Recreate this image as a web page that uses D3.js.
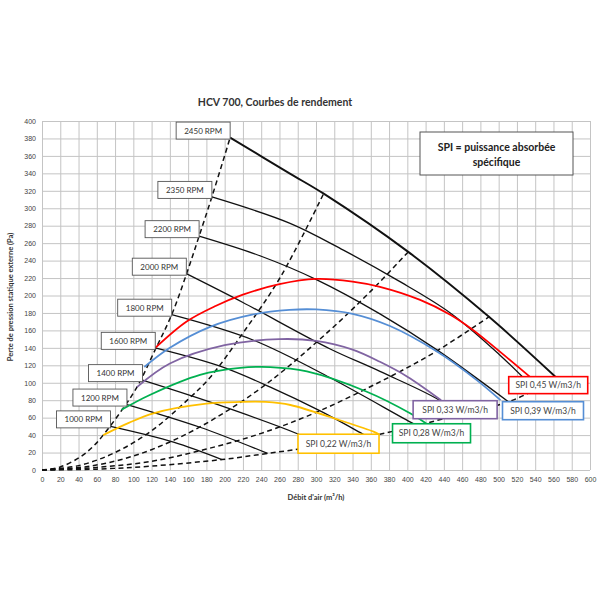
<!DOCTYPE html>
<html>
<head>
<meta charset="utf-8">
<script src="https://cdn.jsdelivr.net/npm/d3@7"></script>
<style>
body { margin: 0; background: #fff; }
svg { font-family: Lato, "Open Sans", sans-serif; }
</style>
</head>
<body>
<div id="chart"></div>
<script>
// HCV 700 - fan curves (RPM), SPI iso-lines and system curves

// Axis ticks
var xTicks = d3.range(0, 601, 20);
var yTicks = d3.range(0, 401, 20);

// Fan curves, one per speed: [airflow m3/h, pressure Pa]
var rpmNames = ["1000 RPM", "1200 RPM", "1400 RPM", "1600 RPM", "1800 RPM",
                "2000 RPM", "2200 RPM", "2350 RPM", "2450 RPM"];
var rpm1000 = [[75,50],[144,32],[197,12]];
var rpm1200 = [[93,75],[173,49],[247,19]];
var rpm1400 = [[110,103],[195,74],[281,41],[308,28]];
var rpm1600 = [[124,140],[195,119],[250,95],[304,68],[350,42],[357,38]];
var rpm1800 = [[142,178],[231,149],[315,106],[405,54],[411,51]];
var rpm2000 = [[158,225],[220,192],[315,139],[370,113],[438,78],[452,64]];
var rpm2200 = [[172,268],[240,245],[301,218],[370,179],[432,138],[511,78]];
var rpm2350 = [[186,313],[271,283],[330,252],[390,217],[447,180],[500,133],[540,92]];
var rpm2450 = [[206,381],[271,340],[308,317],[401,250],[490,175],[563,106]];
var rpmCurves = [rpm1000, rpm1200, rpm1400, rpm1600, rpm1800, rpm2000, rpm2200, rpm2350, rpm2450];

// SPI iso-lines
var spiNames = ["SPI 0,22 W/m3/h", "SPI 0,28 W/m3/h", "SPI 0,33 W/m3/h", "SPI 0,39 W/m3/h", "SPI 0,45 W/m3/h"];
var spi022 = [[67,40],[95,54],[122,65],[180,76],[217,78],[245,78],[272,74.5],[326,57],[363,44],[369,41]];
var spi028 = [[87,69],[118,86],[173,109],[217,117],[250,118],[290,113],[355,90],[403,65],[421,53]];
var spi033 = [[104,95],[140,122],[200,143],[260,150],[300,148],[340,138],[370,124],[400,107],[437,80]];
var spi039 = [[112,118],[140,140],[184,164],[230,178],[271,183.5],[300,184],[340,179],[381,165],[432,136],[476,103],[502,80]];
var spi045 = [[124,140],[158,170],[190,188],[220,201],[260,213],[300,219],[340,216],[370,210],[414,195],[447,178],[470,162],[494,142],[534,107]];
var spiCurves = [spi022, spi028, spi033, spi039, spi045];

// System curves (dashed)
var sys1 = [[0,0],[20,3.5],[42,15],[56,27],[67,40],[87,68],[104,95],[124,138],[142,178],[158,224],[172,268],[186,313],[206,381]];
var sys2 = [[0,0],[40,5],[80,20],[120,45],[160,81],[184,106],[220,157],[261,221],[308,316]];
var sys3 = [[0,0],[50,4],[100,16],[150,37],[200,66],[250,102],[315,160],[360,205],[401,250]];
var sys4 = [[0,0],[60,3],[120,10],[180,24],[240,42],[300,66],[370,101],[430,135],[490,176]];
var sys5 = [[0,0],[60,1],[120,4.5],[197,12],[247,19],[300,27],[370,41],[452,62],[510,78],[540,92],[563,106]];
var sysCurves = [sys1, sys2, sys3, sys4, sys5];

// ---- layout / style ----
var width = 600, height = 600;
var spiColors = ["#ffc000", "#00b050", "#8064a2", "#558ed5", "#ff0000"];
// label boxes relative to the end of each SPI line (pixels)
var spiBoxLayout = [
	{dx: -81, dy: 0, w: 81, h: 19},
	{dx: -34, dy: 0, w: 78, h: 19},
	{dx: -28, dy: 0.5, w: 84, h: 18},
	{dx: 2, dy: 1.5, w: 81, h: 18},
	{dx: -21, dy: 0, w: 79, h: 17}
];

var x = d3.scaleLinear().domain([0, 600]).range([42, 590]);
var y = d3.scaleLinear().domain([0, 400]).range([470, 121]);

var svg = d3.select("#chart").append("svg")
	.attr("width", width)
	.attr("height", height);

// Grid + axes
var xAxis = d3.axisBottom(x).tickValues(xTicks).tickSize(-(y(0) - y(400))).tickPadding(7);
var yAxis = d3.axisLeft(y).tickValues(yTicks).tickSize(-(x(600) - x(0))).tickPadding(6);

var gx = svg.append("g").attr("transform", "translate(0," + y(0) + ")").call(xAxis);
var gy = svg.append("g").attr("transform", "translate(" + x(0) + ",0)").call(yAxis);
[gx, gy].forEach(function(g) {
	g.select(".domain").remove();
	g.selectAll(".tick line").attr("stroke", "#c4c4c4").attr("stroke-width", 1);
	g.selectAll(".tick text").attr("fill", "#444").style("font-size", "7px");
});

var line = d3.line()
	.x(function(d) { return x(d[0]); })
	.y(function(d) { return y(d[1]); })
	.curve(d3.curveCatmullRom.alpha(0.5));

// System curves
svg.selectAll("path.sys")
	.data(sysCurves)
	.enter()
		.append("path")
		.attr("class", "sys")
		.attr("d", line)
		.attr("fill", "none")
		.attr("stroke", "#111")
		.attr("stroke-width", 1.5)
		.attr("stroke-dasharray", "5,3.5");

// Fan curves
svg.selectAll("path.rpm")
	.data(rpmCurves)
	.enter()
		.append("path")
		.attr("class", "rpm")
		.attr("d", line)
		.attr("fill", "none")
		.attr("stroke", "#111")
		.attr("stroke-width", function(d, i) { return i === rpmCurves.length - 1 ? 1.9 : 1.3; });

// SPI lines
svg.selectAll("path.spi")
	.data(spiCurves)
	.enter()
		.append("path")
		.attr("class", "spi")
		.attr("d", line)
		.attr("fill", "none")
		.attr("stroke", function(d, i) { return spiColors[i]; })
		.attr("stroke-width", 1.8);

// RPM labels: box whose lower right corner sits at the start of the curve
var rpmLab = svg.selectAll("g.rpmlab")
	.data(rpmCurves)
	.enter()
		.append("g")
		.attr("class", "rpmlab")
		.attr("transform", function(d) {
			return "translate(" + (x(d[0][0]) - 54) + "," + (y(d[0][1]) - 15.5) + ")";
		});
rpmLab.append("rect")
	.attr("width", 54).attr("height", 17)
	.attr("fill", "#fff").attr("stroke", "#555").attr("stroke-width", 0.9);
rpmLab.append("text")
	.attr("x", 27).attr("y", 11.5)
	.attr("text-anchor", "middle")
	.attr("fill", "#333")
	.style("font-size", "8px")
	.text(function(d, i) { return rpmNames[i]; });

// SPI labels
var spiLab = svg.selectAll("g.spilab")
	.data(spiCurves)
	.enter()
		.append("g")
		.attr("class", "spilab")
		.attr("transform", function(d, i) {
			var e = d[d.length - 1], l = spiBoxLayout[i];
			return "translate(" + (x(e[0]) + l.dx) + "," + (y(e[1]) + l.dy) + ")";
		});
spiLab.append("rect")
	.attr("width", function(d, i) { return spiBoxLayout[i].w; })
	.attr("height", function(d, i) { return spiBoxLayout[i].h; })
	.attr("fill", "#fff")
	.attr("stroke", function(d, i) { return spiColors[i]; })
	.attr("stroke-width", 1.6);
spiLab.append("text")
	.attr("x", function(d, i) { return spiBoxLayout[i].w / 2; })
	.attr("y", function(d, i) { return spiBoxLayout[i].h / 2 + 3; })
	.attr("text-anchor", "middle")
	.attr("fill", "#444")
	.style("font-size", "8.5px")
	.text(function(d, i) { return spiNames[i]; });

// Legend note
var note = svg.append("g").attr("transform", "translate(420,132)");
note.append("rect")
	.attr("width", 153).attr("height", 43)
	.attr("fill", "#fff").attr("stroke", "#555").attr("stroke-width", 1);
note.append("text")
	.attr("x", 76.5).attr("y", 18.5)
	.attr("text-anchor", "middle").attr("fill", "#222")
	.style("font-size", "10.5px").style("font-weight", "bold")
	.text("SPI = puissance absorbée");
note.append("text")
	.attr("x", 76.5).attr("y", 33.5)
	.attr("text-anchor", "middle").attr("fill", "#222")
	.style("font-size", "10.5px").style("font-weight", "bold")
	.text("spécifique");

// Titles
svg.append("text")
	.attr("x", 275).attr("y", 106)
	.attr("text-anchor", "middle").attr("fill", "#333")
	.style("font-size", "10.5px").style("font-weight", "bold")
	.text("HCV 700, Courbes de rendement");

svg.append("text")
	.attr("x", (x(0) + x(600)) / 2).attr("y", 500)
	.attr("text-anchor", "middle").attr("fill", "#333")
	.style("font-size", "7.5px").style("font-weight", "bold")
	.text("Débit d'air (m³/h)");

svg.append("text")
	.attr("transform", "translate(13,297) rotate(-90)")
	.attr("text-anchor", "middle").attr("fill", "#333")
	.style("font-size", "7.5px").style("font-weight", "bold")
	.text("Perte de pression statique externe (Pa)");
</script>
</body>
</html>
